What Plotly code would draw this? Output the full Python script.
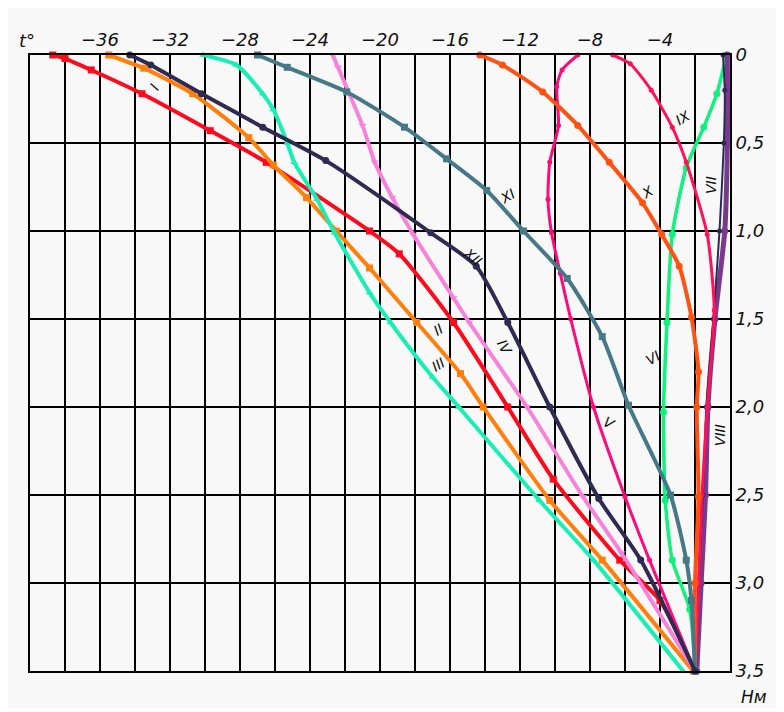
import plotly.graph_objects as go

# ---- data (temperature t, °C ; depth H, m) ----
months = ["I", "II", "III", "IV", "V", "VI", "VII", "VIII", "IX", "X", "XI", "XII"]

t_I   = [-38.7, -38.0, -36.5, -33.6, -29.7, -26.5, -20.6, -18.9, -15.8, -12.7, -10.1, -6.3, -4.0, -2.0]
h_I   = [0.0, 0.02, 0.085, 0.22, 0.43, 0.61, 1.0, 1.13, 1.52, 2.0, 2.41, 2.87, 3.10, 3.5]

t_II  = [-35.5, -33.5, -30.7, -27.5, -26.1, -24.2, -22.5, -20.6, -17.9, -15.4, -14.1, -10.3, -7.3, -2.1]
h_II  = [0.0, 0.075, 0.22, 0.47, 0.625, 0.81, 1.0, 1.21, 1.52, 1.81, 2.0, 2.53, 2.87, 3.5]

t_III = [-30.1, -28.2, -26.7, -26.1, -25.3, -24.9, -23.6, -22.6, -20.6, -19.4, -17.0, -15.5, -10.9, -7.8, -2.6]
h_III = [0.0, 0.057, 0.22, 0.31, 0.5, 0.61, 0.82, 1.01, 1.35, 1.52, 1.83, 2.0, 2.53, 2.87, 3.51]

t_IV  = [-22.7, -22.4, -21.0, -20.3, -19.3, -18.1, -15.8, -14.9, -11.6, -8.4, -6.2, -2.0]
h_IV  = [0.0, 0.07, 0.40, 0.61, 0.81, 1.02, 1.38, 1.52, 2.0, 2.51, 2.83, 3.5]

t_V   = [-8.7, -9.6, -9.9, -9.8, -10.3, -10.4, -10.2, -9.7, -9.1, -7.8, -6.0, -4.6, -2.0]
h_V   = [0.0, 0.085, 0.18, 0.40, 0.61, 0.82, 1.01, 1.24, 1.5, 2.0, 2.51, 2.87, 3.5]

t_VI  = [-0.2, -0.75, -1.5, -2.5, -3.3, -3.6, -3.8, -3.7, -3.3, -2.3, -2.0]
h_VI  = [0.0, 0.22, 0.41, 0.64, 1.02, 1.52, 2.03, 2.53, 2.87, 3.15, 3.5]

t_VII = [-0.15, -0.15, -0.3, -0.86, -1.26, -1.4, -1.65, -1.9]
h_VII = [0.0, 0.5, 1.0, 1.5, 2.0, 2.5, 3.0, 3.5]

t_VIII = [-0.4, -0.3, -0.35, -0.6, -0.95, -1.35, -1.55, -1.8, -2.0]
h_VIII = [0.0, 0.2, 0.5, 1.0, 1.5, 2.0, 2.5, 3.0, 3.5]

t_IX  = [-6.7, -5.7, -4.5, -3.3, -2.5, -1.3, -0.9, -1.3, -1.6, -1.8, -2.0]
h_IX  = [0.0, 0.05, 0.2, 0.41, 0.61, 1.02, 1.45, 2.0, 2.5, 3.0, 3.5]

t_X   = [-14.3, -13.0, -10.7, -8.7, -6.9, -5.0, -3.9, -2.9, -2.2, -1.8, -1.9, -1.8, -2.0, -2.0]
h_X   = [0.0, 0.057, 0.21, 0.40, 0.61, 0.84, 1.02, 1.2, 1.49, 1.8, 2.0, 2.51, 3.0, 3.5]

t_XI  = [-27.0, -25.3, -21.9, -18.6, -16.2, -13.9, -11.8, -9.3, -7.3, -5.8, -3.4, -2.5, -2.2, -2.0]
h_XI  = [0.0, 0.07, 0.21, 0.41, 0.59, 0.77, 1.0, 1.27, 1.6, 1.99, 2.5, 2.87, 3.1, 3.5]

t_XII = [-34.3, -33.1, -30.2, -26.7, -23.1, -17.1, -14.5, -12.7, -10.3, -7.5, -5.1, -2.0]
h_XII = [0.0, 0.057, 0.22, 0.41, 0.6, 1.01, 1.2, 1.52, 2.0, 2.52, 2.87, 3.5]

x_tick_vals = [-36, -32, -28, -24, -20, -16, -12, -8, -4]
x_tick_text = ["\u221236", "\u221232", "\u221228", "\u221224", "\u221220",
               "\u221216", "\u221212", "\u22128", "\u22124"]
y_tick_vals = [0, 0.5, 1.0, 1.5, 2.0, 2.5, 3.0, 3.5]
y_tick_text = ["0", "0,5", "1,0", "1,5", "2,0", "2,5", "3,0", "3,5"]

# label positions (t, H) and angles for month numerals
lab_t = [-32.9, -16.7, -16.7, -12.9, -6.9, -4.4, -1.1, -0.57, -2.7, -4.7, -12.7, -14.7]
lab_h = [0.18, 1.56, 1.76, 1.66, 2.09, 1.72, 0.74, 2.16, 0.36, 0.78, 0.80, 1.15]
lab_ang = [-60, -30, -30, 60, 30, -30, -90, -90, -30, -30, -30, 40]

# ---- styles ----
series = [
    (t_I, h_I, "#fe0a1e", 4, "square"),
    (t_II, h_II, "#ff7f0a", 4, "square"),
    (t_III, h_III, "#19efb4", 4, "triangle-up"),
    (t_IV, h_IV, "#f782dc", 4, "triangle-down"),
    (t_V, h_V, "#ff0a7c", 3, "circle"),
    (t_VI, h_VI, "#12f07e", 3.5, "circle"),
    (t_VII, h_VII, "#7a3a8c", 5, "circle"),
    (t_VIII, h_VIII, "#2a2a55", 2, "circle"),
    (t_IX, h_IX, "#ff1058", 3, "circle"),
    (t_X, h_X, "#ff5212", 4, "circle"),
    (t_XI, h_XI, "#467888", 4, "square"),
    (t_XII, h_XII, "#2e2a52", 4, "circle"),
]

fig = go.Figure()
for name, (tx, hy, col, w, sym) in zip(months, series):
    fig.add_trace(go.Scatter(
        x=tx, y=hy, mode="lines+markers", name=name,
        line=dict(color=col, width=w, shape="spline", smoothing=0.6),
        marker=dict(color=col, size=7 if w >= 3.5 else 5, symbol=sym),
        cliponaxis=False, showlegend=False,
    ))

for name, lx, ly, ang in zip(months, lab_t, lab_h, lab_ang):
    fig.add_annotation(x=lx, y=ly, text=name, showarrow=False, textangle=ang,
                       font=dict(family="DejaVu Sans", size=14, color="#111", style="italic"))

fig.add_annotation(xref="paper", yref="paper", x=-0.005, y=1.0, yshift=15,
                   text="t\u00b0", showarrow=False, xanchor="center", yanchor="middle",
                   font=dict(family="DejaVu Sans", size=18, color="#111", style="italic"))
fig.add_annotation(xref="paper", yref="paper", x=1.0, y=0.0, xshift=9, yshift=-26,
                   text="H\u043c", showarrow=False, xanchor="left", yanchor="middle",
                   font=dict(family="DejaVu Sans", size=17, color="#111", style="italic"))

fig.update_xaxes(
    range=[-40, 0], side="top", tickvals=x_tick_vals, ticktext=x_tick_text,
    showgrid=True, gridcolor="#000", gridwidth=1.5, zeroline=False,
    minor=dict(tick0=0, dtick=2, showgrid=True, gridcolor="#000", gridwidth=1.5),
    showline=True, linecolor="#000", linewidth=2, mirror=True, ticks="",
    tickfont=dict(family="DejaVu Sans", size=18, color="#111", style="italic"),
)
fig.update_yaxes(
    range=[3.5, 0], side="right", tickvals=y_tick_vals, ticktext=y_tick_text,
    showgrid=True, gridcolor="#000", gridwidth=1.5, zeroline=False,
    showline=True, linecolor="#000", linewidth=2, mirror=True, ticks="",
    tickfont=dict(family="DejaVu Sans", size=18, color="#111", style="italic"),
)
fig.update_layout(
    width=770, height=700,
    margin=dict(l=22, r=48, t=47, b=37),
    paper_bgcolor="#f8f8f8", plot_bgcolor="#f8f8f8",
)
fig.write_html("out.html")
